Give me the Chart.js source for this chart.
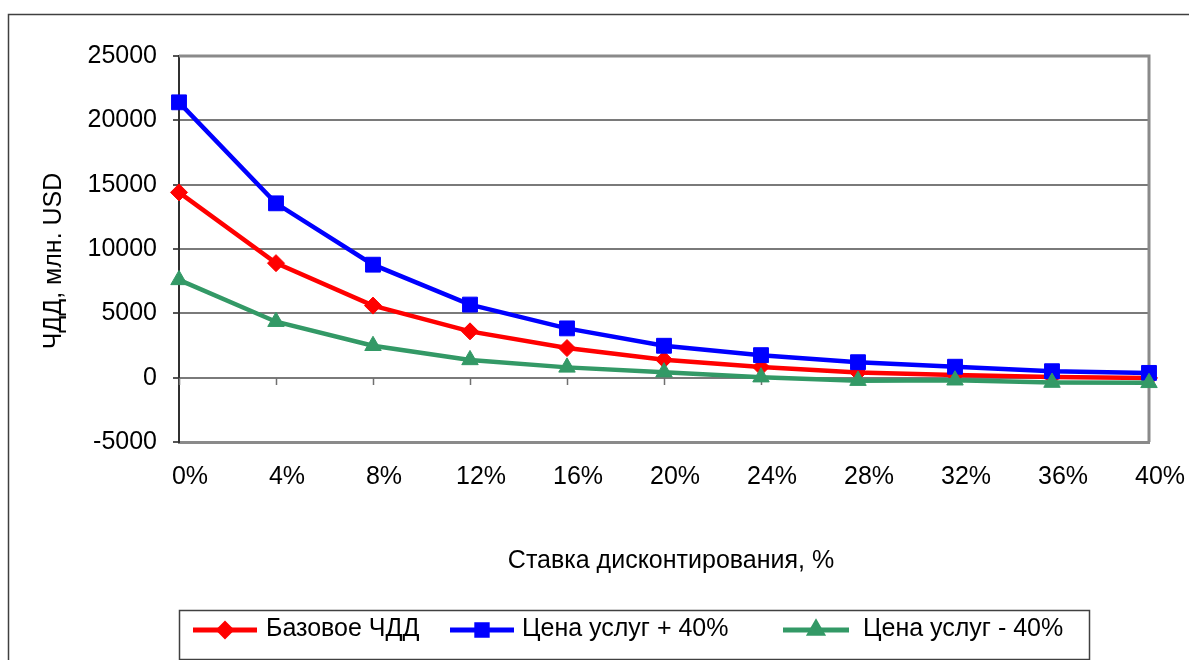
<!DOCTYPE html>
<html>
<head>
<meta charset="utf-8">
<script src="https://cdn.jsdelivr.net/npm/chart.js@4/dist/chart.umd.min.js"></script>
<style>
  html, body { margin: 0; padding: 0; background: #ffffff; }
  #wrap { width: 1189px; height: 660px; position: relative; }
</style>
</head>
<body>
<div id="wrap"><canvas id="npv" width="1189" height="660"></canvas></div>
<script>
// Discount rates (category axis)
const rates = ['0%', '4%', '8%', '12%', '16%', '20%', '24%', '28%', '32%', '36%', '40%'];

// NPV, mln USD
const baseNPV      = [14400, 8900, 5600, 3600, 2300, 1400, 830, 400, 200, 60, -20];
const pricePlus40  = [21400, 13550, 8780, 5680, 3830, 2480, 1750, 1200, 850, 500, 370];
const priceMinus40 = [7600, 4350, 2480, 1380, 800, 430, 40, -230, -200, -380, -400];

const seriesNames = ['Базовое ЧДД', 'Цена услуг + 40%', 'Цена услуг - 40%'];
const yMin = -5000, yMax = 25000, yStep = 5000;

const xTitle = 'Ставка дисконтирования, %';
const yTitle = 'ЧДД, млн. USD';

const FONT = "'Liberation Sans', Arial, sans-serif";
const FONT_SIZE = 25;
const RED = '#ff0000', BLUE = '#0000ff', GREEN = '#339966';

// Frame, plot borders, axis titles and the boxed legend
const chartFrame = {
  id: 'chartFrame',
  beforeDraw(chart) {
    const ctx = chart.ctx;
    ctx.save();
    ctx.fillStyle = '#ffffff';
    ctx.fillRect(0, 0, chart.width, chart.height);
    ctx.strokeStyle = '#404040';
    ctx.lineWidth = 1.5;
    ctx.strokeRect(8.5, 14.5, chart.width + 20, chart.height + 20);
    ctx.restore();
  },
  beforeDatasetsDraw(chart) {
    const ctx = chart.ctx;
    const a = chart.chartArea;
    const x = chart.scales.x, y = chart.scales.y;
    ctx.save();
    // top and right plot borders
    ctx.strokeStyle = '#8a8a8a';
    ctx.lineWidth = 3;
    ctx.beginPath();
    ctx.moveTo(a.left, a.top);
    ctx.lineTo(a.right, a.top);
    ctx.lineTo(a.right, a.bottom);
    ctx.stroke();
    // category tick marks on the zero line
    const y0 = Math.round(y.getPixelForValue(0));
    ctx.strokeStyle = '#707070';
    ctx.lineWidth = 1.5;
    ctx.beginPath();
    for (let i = 0; i < rates.length; i++) {
      const px = Math.round(x.getPixelForValue(i)) + 0.5;
      ctx.moveTo(px, y0);
      ctx.lineTo(px, y0 + 7);
    }
    ctx.stroke();
    ctx.restore();
  },
  afterDraw(chart) {
    const ctx = chart.ctx;
    ctx.save();
    ctx.fillStyle = '#000000';
    ctx.font = FONT_SIZE + 'px ' + FONT;
    ctx.textBaseline = 'middle';
    // axis titles
    ctx.textAlign = 'center';
    ctx.fillText(xTitle, 671, 561);
    ctx.save();
    ctx.translate(54, 261);
    ctx.rotate(-Math.PI / 2);
    ctx.fillText(yTitle, 0, 0);
    ctx.restore();

    // legend box
    ctx.strokeStyle = '#404040';
    ctx.lineWidth = 1.5;
    ctx.strokeRect(179.5, 610.5, 910, 49);

    const items = [
      { x0: 193, x1: 257, tx: 266 },
      { x0: 450, x1: 514, tx: 522 },
      { x0: 783, x1: 849, tx: 863 }
    ];
    const ly = 630;
    chart.data.datasets.forEach((ds, i) => {
      const it = items[i];
      ctx.strokeStyle = ds.borderColor;
      ctx.lineWidth = 5;
      ctx.beginPath();
      ctx.moveTo(it.x0, ly);
      ctx.lineTo(it.x1, ly);
      ctx.stroke();
      ctx.fillStyle = ds.pointBackgroundColor;
      ctx.strokeStyle = ds.pointBorderColor;
      Chart.helpers.drawPoint(ctx, {
        pointStyle: ds.pointStyle,
        radius: ds.pointRadius * 0.7,
        borderWidth: 1,
        rotation: 0
      }, (it.x0 + it.x1) / 2, ly);
      ctx.fillStyle = '#000000';
      ctx.textAlign = 'left';
      ctx.fillText(seriesNames[i], it.tx, ly - 1);
    });
    ctx.restore();
  }
};

function series(label, data, color, style, radius, order) {
  return {
    label, data,
    borderColor: color,
    backgroundColor: color,
    pointBackgroundColor: color,
    pointBorderColor: color,
    pointStyle: style,
    pointRadius: radius,
    pointBorderWidth: 1,
    pointHoverRadius: radius,
    borderWidth: 4.5,
    tension: 0,
    fill: false,
    order
  };
}

new Chart(document.getElementById('npv'), {
  type: 'line',
  data: {
    labels: rates,
    datasets: [
      series(seriesNames[0], baseNPV, RED, 'rectRot', 8.5, 3),
      series(seriesNames[1], pricePlus40, BLUE, 'rect', 10.5, 2),
      series(seriesNames[2], priceMinus40, GREEN, 'triangle', 9.5, 1)
    ]
  },
  options: {
    responsive: false,
    animation: false,
    devicePixelRatio: 1,
    layout: { padding: { left: 0, top: 56, right: 40, bottom: 0 } },
    plugins: {
      legend: { display: false },
      tooltip: { enabled: false },
      title: { display: false }
    },
    scales: {
      x: {
        type: 'category',
        offset: false,
        grid: { display: false, drawTicks: false },
        border: { display: true, color: '#8a8a8a', width: 3 },
        ticks: {
          color: '#000000',
          font: { family: FONT, size: FONT_SIZE },
          padding: 20,
          labelOffset: 11,
          maxRotation: 0,
          autoSkip: false
        },
        afterFit(scale) {
          scale.height = 660 - 442;
          scale.paddingLeft = 0;
          scale.paddingRight = 0;
        }
      },
      y: {
        min: yMin,
        max: yMax,
        grid: {
          color: '#7a7a7a',
          lineWidth: 2,
          drawTicks: true,
          tickLength: 6,
          tickColor: '#555555'
        },
        border: { display: true, color: '#303030', width: 2 },
        ticks: {
          stepSize: yStep,
          color: '#000000',
          font: { family: FONT, size: FONT_SIZE },
          padding: 16,
          callback: (v) => String(v)
        },
        afterFit(scale) { scale.width = 179; }
      }
    }
  },
  plugins: [chartFrame]
});
</script>
</body>
</html>
